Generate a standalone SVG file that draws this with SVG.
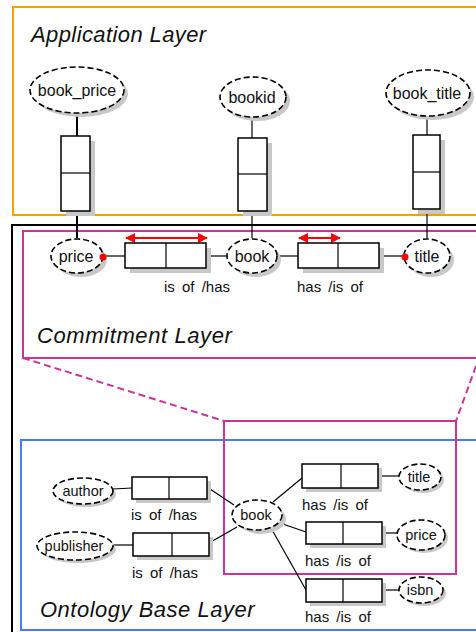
<svg xmlns="http://www.w3.org/2000/svg" width="476" height="632" viewBox="0 0 476 632">
<defs>
<style>
.layer-title{font-family:"Liberation Sans",Arial,sans-serif;font-style:italic;font-size:22px;fill:#111}
.lbl{font-family:"Liberation Sans",Arial,sans-serif;font-size:16px;fill:#111}
.olbl{font-family:"Liberation Sans",Arial,sans-serif;font-size:14.5px;fill:#111}
.rlbl{font-family:"Liberation Sans",Arial,sans-serif;font-size:15px;word-spacing:3px;fill:#111}
.ell{fill:#fff;stroke:#000;stroke-width:1.6;stroke-dasharray:6,3}
.eshadow{fill:#c8c8c8}
.box{fill:#fff;stroke:#000;stroke-width:1.5}
.bshadow{fill:#c8c8c8}
.ln{stroke:#000;stroke-width:1.2;fill:none}
.thick{stroke:#000;stroke-width:2;fill:none}
.red{stroke:#ff0000;stroke-width:2;fill:none}
.magdash{stroke:#cc3399;stroke-width:2;stroke-dasharray:7,4;fill:none}
</style>
<marker id="rarr" viewBox="0 0 10 10" refX="9" refY="5" markerWidth="5" markerHeight="5" orient="auto-start-reverse" markerUnits="strokeWidth">
<path d="M0,0 L10,5 L0,10 z" fill="#ff0000"/>
</marker>
</defs>
<rect width="476" height="632" fill="#fff"/>

<!-- Layers -->
<g id="application-layer">
<rect x="13" y="7" width="470" height="208" fill="none" stroke="#f5a000" stroke-width="2"/>
<text class="layer-title" x="31" y="42" letter-spacing="0.4">Application Layer</text>
</g>
<g id="outer-frame">
<rect x="12" y="225" width="474" height="420" fill="none" stroke="#000" stroke-width="2"/>
</g>
<g id="commitment-layer">
<rect x="23" y="231" width="460" height="127" fill="none" stroke="#cc3399" stroke-width="2"/>
<text class="layer-title" x="37" y="343" letter-spacing="0.6">Commitment Layer</text>
</g>
<g id="ontology-base-layer">
<rect x="21" y="440" width="462" height="190" fill="none" stroke="#4a7cf0" stroke-width="2"/>
<text class="layer-title" x="40" y="617" letter-spacing="0.5">Ontology Base Layer</text>
</g>
<g id="ontology-selection">
<rect x="224" y="421" width="232" height="153" fill="none" stroke="#cc3399" stroke-width="2"/>
</g>

<!-- Connectors -->
<g id="connectors">
<line class="magdash" x1="23" y1="358" x2="224" y2="421"/>
<line class="magdash" x1="476" y1="366" x2="456" y2="421"/>
<line class="thick" x1="77" y1="113" x2="77" y2="136"/>
<line class="thick" x1="77" y1="211" x2="77" y2="238"/>
<line class="ln" x1="252" y1="117" x2="252" y2="138"/>
<line class="ln" x1="252" y1="211" x2="252" y2="238"/>
<line class="ln" x1="427" y1="116" x2="427" y2="135"/>
<line class="ln" x1="427" y1="209" x2="427" y2="238"/>
<line class="ln" x1="103" y1="256" x2="125" y2="256"/>
<line class="ln" x1="206" y1="256" x2="227" y2="256"/>
<line class="ln" x1="277" y1="256" x2="298" y2="256"/>
<line class="ln" x1="379" y1="256" x2="404" y2="256"/>
<line class="red" x1="126" y1="238" x2="207" y2="238" marker-start="url(#rarr)" marker-end="url(#rarr)"/>
<line class="red" x1="299" y1="238" x2="340" y2="238" marker-start="url(#rarr)" marker-end="url(#rarr)"/>
<line class="ln" x1="113" y1="489" x2="132" y2="488"/>
<line class="ln" x1="207" y1="487" x2="234" y2="505"/>
<line class="ln" x1="113" y1="545" x2="133" y2="545"/>
<line class="ln" x1="209" y1="543" x2="237" y2="527"/>
<line class="ln" x1="273" y1="502" x2="302" y2="478"/>
<line class="ln" x1="277" y1="522" x2="306" y2="532"/>
<line class="ln" x1="271" y1="528" x2="306" y2="590"/>
<line class="ln" x1="378" y1="476" x2="399" y2="476"/>
<line class="ln" x1="382" y1="533" x2="397" y2="533"/>
<line class="ln" x1="382" y1="590" x2="399" y2="590"/>
</g>

<!-- Application layer nodes -->
<g id="node-book_price">
<ellipse class="eshadow" cx="81" cy="94" rx="47" ry="23"/>
<ellipse class="ell" cx="77" cy="90" rx="47" ry="23"/>
<text class="lbl" x="77" y="96" text-anchor="middle">book_price</text>
</g>
<g id="node-bookid">
<ellipse class="eshadow" cx="257" cy="101" rx="33" ry="20"/>
<ellipse class="ell" cx="253" cy="97" rx="33" ry="20"/>
<text class="lbl" x="252" y="103" text-anchor="middle">bookid</text>
</g>
<g id="node-book_title">
<ellipse class="eshadow" cx="432" cy="97" rx="42" ry="23"/>
<ellipse class="ell" cx="428" cy="93" rx="42" ry="23"/>
<text class="lbl" x="427" y="99" text-anchor="middle">book_title</text>
</g>
<g id="map-price">
<rect class="bshadow" x="66" y="141" width="29" height="75"/>
<rect class="box" x="61" y="136" width="29" height="75" stroke-width="2"/>
<line class="ln" x1="61" y1="173" x2="90" y2="173"/>
</g>
<g id="map-bookid">
<rect class="bshadow" x="243" y="143" width="29" height="73"/>
<rect class="box" x="238" y="138" width="29" height="73"/>
<line class="ln" x1="238" y1="174" x2="267" y2="174"/>
</g>
<g id="map-title">
<rect class="bshadow" x="418" y="140" width="27" height="74"/>
<rect class="box" x="413" y="135" width="27" height="74"/>
<line class="ln" x1="413" y1="172" x2="440" y2="172"/>
</g>

<!-- Commitment layer nodes -->
<g id="c-price">
<ellipse class="eshadow" cx="81" cy="260" rx="26" ry="17"/>
<ellipse class="ell" cx="77" cy="256" rx="26" ry="17"/>
<text class="lbl" x="76" y="262" text-anchor="middle">price</text>
<circle cx="103" cy="257" r="3.5" fill="#ff0000"/>
</g>
<g id="c-book">
<ellipse class="eshadow" cx="256" cy="260" rx="25" ry="17"/>
<ellipse class="ell" cx="252" cy="256" rx="25" ry="17"/>
<text class="lbl" x="252" y="262" text-anchor="middle">book</text>
</g>
<g id="c-title">
<ellipse class="eshadow" cx="431" cy="260" rx="23" ry="17"/>
<ellipse class="ell" cx="427" cy="256" rx="23" ry="17"/>
<text class="lbl" x="427" y="262" text-anchor="middle">title</text>
<circle cx="405" cy="257" r="3.5" fill="#ff0000"/>
</g>
<g id="c-rel-price-book">
<rect class="bshadow" x="130" y="248" width="81" height="25"/>
<rect class="box" x="125" y="243" width="81" height="25"/>
<line class="ln" x1="166" y1="243" x2="166" y2="268" stroke-width="1.5"/>
<text class="rlbl" x="164" y="292">is of /has</text>
</g>
<g id="c-rel-book-title">
<rect class="bshadow" x="303" y="248" width="81" height="25"/>
<rect class="box" x="298" y="243" width="81" height="25"/>
<line class="ln" x1="338" y1="243" x2="338" y2="268" stroke-width="1.5"/>
<text class="rlbl" x="297" y="292">has /is of</text>
</g>

<!-- Ontology base nodes -->
<g id="o-author">
<ellipse class="eshadow" cx="86" cy="494" rx="30" ry="13"/>
<ellipse class="ell" cx="83" cy="491" rx="30" ry="13"/>
<text class="olbl" x="83" y="496" text-anchor="middle">author</text>
</g>
<g id="o-publisher">
<ellipse class="eshadow" cx="78" cy="549" rx="38" ry="14"/>
<ellipse class="ell" cx="75" cy="546" rx="38" ry="14"/>
<text class="olbl" x="74" y="551" text-anchor="middle" font-size="15">publisher</text>
</g>
<g id="o-book">
<ellipse class="eshadow" cx="261" cy="519" rx="25" ry="15"/>
<ellipse class="ell" cx="257" cy="515" rx="25" ry="15"/>
<text class="olbl" x="256" y="520" text-anchor="middle">book</text>
</g>
<g id="o-title">
<ellipse class="eshadow" cx="423" cy="480" rx="21" ry="13"/>
<ellipse class="ell" cx="420" cy="477" rx="21" ry="13"/>
<text class="olbl" x="419" y="482" text-anchor="middle">title</text>
</g>
<g id="o-price">
<ellipse class="eshadow" cx="424" cy="538" rx="24" ry="15"/>
<ellipse class="ell" cx="421" cy="535" rx="24" ry="15"/>
<text class="olbl" x="421" y="540" text-anchor="middle">price</text>
</g>
<g id="o-isbn">
<ellipse class="eshadow" cx="424" cy="593" rx="22" ry="13"/>
<ellipse class="ell" cx="421" cy="590" rx="22" ry="13"/>
<text class="olbl" x="420" y="595" text-anchor="middle">isbn</text>
</g>
<g id="o-rel-author">
<rect class="bshadow" x="136" y="481" width="75" height="22"/>
<rect class="box" x="132" y="477" width="75" height="22"/>
<line class="ln" x1="169" y1="477" x2="169" y2="499" stroke-width="1.5"/>
<text class="rlbl" x="131" y="520">is of /has</text>
</g>
<g id="o-rel-publisher">
<rect class="bshadow" x="137" y="537" width="76" height="23"/>
<rect class="box" x="133" y="533" width="76" height="23"/>
<line class="ln" x1="172" y1="533" x2="172" y2="556" stroke-width="1.5"/>
<text class="rlbl" x="132" y="578">is of /has</text>
</g>
<g id="o-rel-title">
<rect class="bshadow" x="306" y="468" width="76" height="24"/>
<rect class="box" x="302" y="464" width="76" height="24"/>
<line class="ln" x1="341" y1="464" x2="341" y2="488"/>
<text class="rlbl" x="302" y="510">has /is of</text>
</g>
<g id="o-rel-price">
<rect class="bshadow" x="310" y="526" width="76" height="22"/>
<rect class="box" x="306" y="522" width="76" height="22"/>
<line class="ln" x1="343" y1="522" x2="343" y2="544"/>
<text class="rlbl" x="305" y="566">has /is of</text>
</g>
<g id="o-rel-isbn">
<rect class="bshadow" x="310" y="583" width="76" height="23"/>
<rect class="box" x="306" y="579" width="76" height="23"/>
<line class="ln" x1="343" y1="579" x2="343" y2="602"/>
<text class="rlbl" x="305" y="622">has /is of</text>
</g>
</svg>
